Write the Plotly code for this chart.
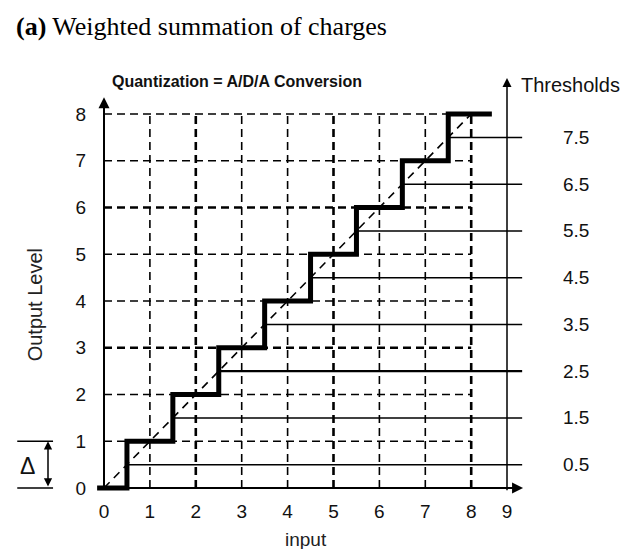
import plotly.graph_objects as go

# ---------------- data ----------------
levels = [0, 1, 2, 3, 4, 5, 6, 7, 8]
thresholds = [0.5, 1.5, 2.5, 3.5, 4.5, 5.5, 6.5, 7.5]
threshold_labels = ["0.5", "1.5", "2.5", "3.5", "4.5", "5.5", "6.5", "7.5"]
x_tick_vals = [0, 1, 2, 3, 4, 5, 6, 7, 8, 8.78]
x_tick_text = ["0", "1", "2", "3", "4", "5", "6", "7", "8", "9"]
y_tick_vals = [0, 1, 2, 3, 4, 5, 6, 7, 8]
y_tick_text = ["0", "1", "2", "3", "4", "5", "6", "7", "8"]
stair_start = -0.15
stair_end = 8.45
thr_axis_x = 8.78

# ---------------- geometry (pixel mapping; page body has an 8px margin) ----------------
W, H = 630, 549
PAGE_OFF = 8
X0PX, XS = 104 - PAGE_OFF, 45.9
Y0PX, YS = 488 - PAGE_OFF, 46.75
xr = [-X0PX / XS, (W - X0PX) / XS]
yr = [-(H - Y0PX) / YS, Y0PX / YS]

fig = go.Figure()

# grid (dashed)
bold_rows = {3, 6}
bold_cols = {2, 5, 8}
shapes = []
for lv in levels[1:]:
    shapes.append(dict(type="line", x0=0, x1=8, y0=lv, y1=lv, xref="x", yref="y",
                       line=dict(color="black", width=2.6 if lv in bold_rows else 1.6,
                                 dash="8px,5px")))
for lv in levels[1:]:
    shapes.append(dict(type="line", x0=lv, x1=lv, y0=0, y1=8, xref="x", yref="y",
                       line=dict(color="black", width=2.6 if lv in bold_cols else 1.6,
                                 dash="8px,5px")))

# threshold lines (solid)
thr_end = 9.11
for t in thresholds:
    shapes.append(dict(type="line", x0=t, x1=thr_end, y0=t, y1=t, xref="x", yref="y",
                       line=dict(color="black", width=2.4 if t == 2.5 else 1.5)))

# delta bracket lines
shapes.append(dict(type="line", x0=-1.89, x1=-1.11, y0=1, y1=1, xref="x", yref="y",
                   line=dict(color="black", width=1.3)))
shapes.append(dict(type="line", x0=-1.89, x1=-1.11, y0=0, y1=0, xref="x", yref="y",
                   line=dict(color="black", width=1.3)))
fig.update_layout(shapes=shapes)

# diagonal ideal line
fig.add_trace(go.Scatter(x=[levels[0], levels[-1]], y=[levels[0], levels[-1]], mode="lines",
                         line=dict(color="black", width=1.6, dash="8px,6px"),
                         hoverinfo="skip", showlegend=False))

# staircase
sx = [stair_start]
sy = [levels[0]]
for t, lv in zip(thresholds, levels[1:]):
    sx += [t, t]
    sy += [lv - 1, lv]
sx.append(stair_end)
sy.append(levels[-1])
fig.add_trace(go.Scatter(x=sx, y=sy, mode="lines",
                         line=dict(color="black", width=5), hoverinfo="skip",
                         showlegend=False))

FONT = "Liberation Sans, Arial"
ann = []
# axis arrows
ann.append(dict(x=9.13, y=0, ax=0, ay=0, xref="x", yref="y", axref="x", ayref="y",
                text="", showarrow=True, arrowhead=2, arrowsize=1.1, arrowwidth=2,
                arrowcolor="black"))
ann.append(dict(x=0, y=8.36, ax=0, ay=0, xref="x", yref="y", axref="x", ayref="y",
                text="", showarrow=True, arrowhead=2, arrowsize=1.1, arrowwidth=2,
                arrowcolor="black"))
ann.append(dict(x=thr_axis_x, y=8.77, ax=thr_axis_x, ay=-0.08, xref="x", yref="y",
                axref="x", ayref="y", text="", showarrow=True, arrowhead=2,
                arrowsize=1.2, arrowwidth=1.5, arrowcolor="black"))
# delta double arrow
ann.append(dict(x=-1.22, y=1, ax=-1.22, ay=0, xref="x", yref="y", axref="x", ayref="y",
                text="", showarrow=True, arrowhead=2, startarrowhead=2, arrowside="end+start",
                arrowsize=1.1, startarrowsize=1.1, arrowwidth=1.5, arrowcolor="black"))
ann.append(dict(x=-1.66, y=0.47, xref="x", yref="y", text="Δ", showarrow=False,
                font=dict(family=FONT, size=23, color="#111")))

# threshold labels
for t, lab in zip(thresholds, threshold_labels):
    ann.append(dict(x=10.28, y=t, xref="x", yref="y", text=lab, showarrow=False,
                    font=dict(family=FONT, size=19, color="#111")))
ann.append(dict(x=9.05, y=8.62, xref="x", yref="y", text="Thresholds", showarrow=False,
                xanchor="left", font=dict(family=FONT, size=20, color="#111")))
# chart title
ann.append(dict(x=2.90, y=8.70, xref="x", yref="y",
                text="<b>Quantization = A/D/A Conversion</b>", showarrow=False,
                font=dict(family=FONT, size=16, color="#111")))
# axis titles
ann.append(dict(x=-1.50, y=3.91, xref="x", yref="y", text="Output Level", showarrow=False,
                textangle=-90, font=dict(family=FONT, size=20, color="#222")))
ann.append(dict(x=4.4, y=-1.11, xref="x", yref="y", text="input", showarrow=False,
                font=dict(family=FONT, size=19, color="#222")))
# figure heading
ann.append(dict(x=6 / W, y=1 - 18 / H, xref="paper", yref="paper", xanchor="left",
                yanchor="middle", text="<b>(a)</b> Weighted summation of charges",
                showarrow=False,
                font=dict(family="Liberation Serif, Times New Roman", size=26, color="black")))

fig.update_layout(
    annotations=ann,
    width=W, height=H, autosize=False,
    margin=dict(l=0, r=0, t=0, b=0),
    paper_bgcolor="white", plot_bgcolor="white",
    showlegend=False,
    xaxis=dict(range=xr, domain=[0, 1], anchor="free", position=(H - Y0PX) / H,
               showgrid=False, zeroline=False, showline=False,
               tickmode="array", tickvals=x_tick_vals, ticktext=x_tick_text,
               ticks="outside", ticklen=6, tickcolor="rgba(0,0,0,0)",
               tickfont=dict(family=FONT, size=19, color="#111"),
               fixedrange=True),
    yaxis=dict(range=yr, domain=[0, 1], anchor="free", position=X0PX / W,
               showgrid=False, zeroline=False, showline=False,
               tickmode="array", tickvals=y_tick_vals, ticktext=y_tick_text,
               ticks="outside", ticklen=14, tickcolor="rgba(0,0,0,0)",
               tickfont=dict(family=FONT, size=19, color="#111"),
               fixedrange=True),
)

fig.write_html("out.html")
